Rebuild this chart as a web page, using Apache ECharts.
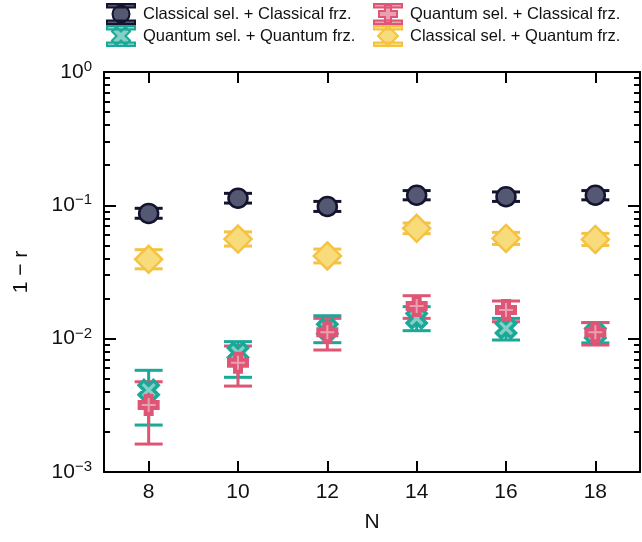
<!DOCTYPE html>
<html>
<head>
<meta charset="utf-8">
<script src="https://cdn.jsdelivr.net/npm/echarts@6/dist/echarts.min.js"></script>
<style>
html,body{margin:0;padding:0;background:#fff;}
#chart{width:642px;height:542px;}
</style>
</head>
<body>
<div id="chart"></div>
<script>
// ---- data ----
const Ns = [8, 10, 12, 14, 16, 18];
const xTicks = [8, 10, 12, 14, 16, 18];
const yMajorTicks = [0.001, 0.01, 0.1, 1];
const yMinorTicks = [0.002,0.003,0.004,0.005,0.006,0.007,0.008,0.009,
                     0.02,0.03,0.04,0.05,0.06,0.07,0.08,0.09,
                     0.2,0.3,0.4,0.5,0.6,0.7,0.8,0.9];

const names = ['Classical sel. + Classical frz.', 'Quantum sel. + Quantum frz.',
               'Quantum sel. + Classical frz.', 'Classical sel. + Quantum frz.'];

// Classical sel. + Classical frz.
const ccVal = [0.087, 0.113, 0.098, 0.119, 0.116, 0.119];
const ccLo  = [0.080, 0.104, 0.090, 0.110, 0.107, 0.110];
const ccHi  = [0.095, 0.123, 0.107, 0.129, 0.126, 0.129];
// Quantum sel. + Quantum frz.
const qqVal = [0.00412, 0.00785, 0.0118, 0.0142, 0.01195, 0.0110];
const qqLo  = [0.00225, 0.00513, 0.00933, 0.01148, 0.00977, 0.0093];
const qqHi  = [0.00579, 0.0095, 0.01486, 0.01738, 0.0142, 0.0132];
// Quantum sel. + Classical frz.
const qcVal = [0.00318, 0.0066, 0.01116, 0.01758, 0.0164, 0.01116];
const qcLo  = [0.00162, 0.00441, 0.00822, 0.0142, 0.0134, 0.00896];
const qcHi  = [0.00475, 0.00881, 0.0142, 0.0210, 0.01916, 0.0132];
// Classical sel. + Quantum frz.
const cqVal = [0.0394, 0.0559, 0.0417, 0.0672, 0.0565, 0.0555];
const cqLo  = [0.0334, 0.0495, 0.0370, 0.0613, 0.0509, 0.0500];
const cqHi  = [0.0465, 0.0632, 0.0470, 0.0737, 0.0627, 0.0616];

// ---- styles ----
const FONT = 'Liberation Sans';
const colors = {
  cc: {edge: '#14142e', fill: '#555872'},
  qq: {edge: '#1aa898', fill: '#85d0c5'},
  qc: {edge: '#de5575', fill: '#eba0b0'},
  cq: {edge: '#f5c242', fill: '#f8dc7c'}
};
const PLUS = 'path://M1 0H2V1H3V2H2V3H1V2H0V1H1Z';
const XSHAPE = 'path://M3 0L4 1L3 2L4 3L3 4L2 3L1 4L0 3L1 2L0 1L1 0L2 1Z';

const legendIcons = {
  cc: 'path://M0 0H28V3.5H0Z M0 16.5H28V20H0Z M5.5 10A8.5 8.5 0 1 1 22.5 10A8.5 8.5 0 1 1 5.5 10Z',
  qq: 'path://M0 0H28V3.5H0Z M0 16.5H28V20H0Z M18.5 1L23 5.5L18.5 10L23 14.5L18.5 19L14 14.5L9.5 19L5 14.5L9.5 10L5 5.5L9.5 1L14 5.5Z',
  qc: 'path://M0 0H28V3.5H0Z M0 16.5H28V20H0Z M11 1H17V7H23V13H17V19H11V13H5V7H11Z',
  cq: 'path://M0 0H28V3.5H0Z M0 16.5H28V20H0Z M14 0L24 10L14 20L4 10Z'
};

function errBars(key, lo, hi) {
  return {
    type: 'custom',
    name: 'eb_' + key,
    xAxisIndex: 0, yAxisIndex: 0,
    silent: true,
    data: Ns.map((n, i) => [n, lo[i], hi[i]]),
    encode: {x: 0, y: [1, 2]},
    renderItem: function (params, api) {
      const x = api.value(0);
      const pLo = api.coord([x, api.value(1)]);
      const pHi = api.coord([x, api.value(2)]);
      const hw = 14;
      const st = {stroke: colors[key].edge, lineWidth: 3, fill: null};
      return {
        type: 'group',
        children: [
          {type: 'line', shape: {x1: pLo[0], y1: pLo[1], x2: pHi[0], y2: pHi[1]}, style: st},
          {type: 'line', shape: {x1: pLo[0] - hw, y1: pLo[1], x2: pLo[0] + hw, y2: pLo[1]}, style: st},
          {type: 'line', shape: {x1: pHi[0] - hw, y1: pHi[1], x2: pHi[0] + hw, y2: pHi[1]}, style: st}
        ]
      };
    }
  };
}
function points(key, name, vals, symbol, size, bw) {
  return {
    type: 'scatter',
    name: name,
    xAxisIndex: 0, yAxisIndex: 0,
    symbol: symbol,
    symbolSize: size,
    data: Ns.map((n, i) => [n, vals[i]]),
    itemStyle: {color: colors[key].fill, borderColor: colors[key].edge, borderWidth: bw, opacity: 1},
    emphasis: {disabled: true}
  };
}

const supMap = {'0': '0', '-1': '−1', '-2': '−2', '-3': '−3'};
const axisLineStyle = {color: '#000', width: 2};
const legendText = {fontFamily: FONT, fontSize: 16.5, lineHeight: 20, color: '#111', padding: [0, 0, 0, 3]};

const option = {
  animation: false,
  backgroundColor: '#fff',
  textStyle: {fontFamily: FONT},
  grid: {left: 104, right: 2, top: 72, bottom: 70, containLabel: false},
  legend: [
    {
      left: 106, top: 3, orient: 'vertical', itemWidth: 28, itemHeight: 20, itemGap: 0,
      padding: 0, selectedMode: false, textStyle: legendText,
      data: [{name: names[0], icon: legendIcons.cc}, {name: names[1], icon: legendIcons.qq}]
    },
    {
      left: 373, top: 3, orient: 'vertical', itemWidth: 28, itemHeight: 20, itemGap: 0,
      padding: 0, selectedMode: false, textStyle: legendText,
      data: [{name: names[2], icon: legendIcons.qc}, {name: names[3], icon: legendIcons.cq}]
    }
  ],
  xAxis: [
    {
      type: 'value', min: 7, max: 19, position: 'bottom',
      name: 'N', nameLocation: 'middle', nameGap: 40,
      nameTextStyle: {fontFamily: FONT, fontSize: 21, color: '#111'},
      axisLine: {show: true, onZero: false, lineStyle: axisLineStyle},
      axisTick: {show: true, inside: true, length: 11, customValues: xTicks, lineStyle: {color: '#000', width: 2}},
      axisLabel: {show: true, customValues: xTicks, margin: 10, fontFamily: FONT, fontSize: 21, color: '#111'},
      splitLine: {show: false}
    },
    {
      type: 'value', min: 7, max: 19, position: 'top',
      axisLine: {show: true, onZero: false, lineStyle: axisLineStyle},
      axisTick: {show: true, inside: true, length: 11, customValues: xTicks, lineStyle: {color: '#000', width: 2}},
      axisLabel: {show: false},
      splitLine: {show: false}
    }
  ],
  yAxis: [
    {
      type: 'log', logBase: 10, min: 0.001, max: 1, position: 'left',
      name: '1 − r', nameLocation: 'middle', nameGap: 72, nameRotate: 90,
      nameTextStyle: {fontFamily: FONT, fontSize: 21, color: '#111'},
      axisLine: {show: true, onZero: false, lineStyle: axisLineStyle},
      axisTick: {show: true, inside: true, length: 12, customValues: yMajorTicks, lineStyle: {color: '#000', width: 2}},
      axisLabel: {
        show: true, customValues: yMajorTicks, margin: 12,
        fontFamily: FONT, fontSize: 21, color: '#111',
        formatter: function (v) {
          const e = Math.round(Math.log10(v));
          return '{b|10}{s|' + (supMap[String(e)] || String(e)) + '}';
        },
        rich: {
          b: {fontFamily: FONT, fontSize: 21, color: '#111'},
          s: {fontFamily: FONT, fontSize: 15, color: '#111', padding: [0, 0, 10, 0]}
        }
      },
      splitLine: {show: false}
    },
    {
      type: 'log', logBase: 10, min: 0.001, max: 1, position: 'right',
      axisLine: {show: true, onZero: false, lineStyle: axisLineStyle},
      axisTick: {show: true, inside: true, length: 12, customValues: yMajorTicks, lineStyle: {color: '#000', width: 2}},
      axisLabel: {show: false},
      splitLine: {show: false}
    },
    {
      type: 'log', logBase: 10, min: 0.001, max: 1, position: 'left',
      axisLine: {show: false},
      axisTick: {show: true, inside: true, length: 6, customValues: yMinorTicks, lineStyle: {color: '#000', width: 2}},
      axisLabel: {show: false},
      splitLine: {show: false}
    },
    {
      type: 'log', logBase: 10, min: 0.001, max: 1, position: 'right',
      axisLine: {show: false},
      axisTick: {show: true, inside: true, length: 6, customValues: yMinorTicks, lineStyle: {color: '#000', width: 2}},
      axisLabel: {show: false},
      splitLine: {show: false}
    }
  ],
  series: [
    errBars('cc', ccLo, ccHi),
    points('cc', names[0], ccVal, 'circle', 19, 2.5),
    errBars('qq', qqLo, qqHi),
    points('qq', names[1], qqVal, XSHAPE, 19, 3.5),
    errBars('qc', qcLo, qcHi),
    points('qc', names[2], qcVal, PLUS, 18, 4),
    errBars('cq', cqLo, cqHi),
    points('cq', names[3], cqVal, 'diamond', 27, 2.5)
  ]
};

const chart = echarts.init(document.getElementById('chart'), null, {renderer: 'canvas'});
chart.setOption(option);
</script>
</body>
</html>
